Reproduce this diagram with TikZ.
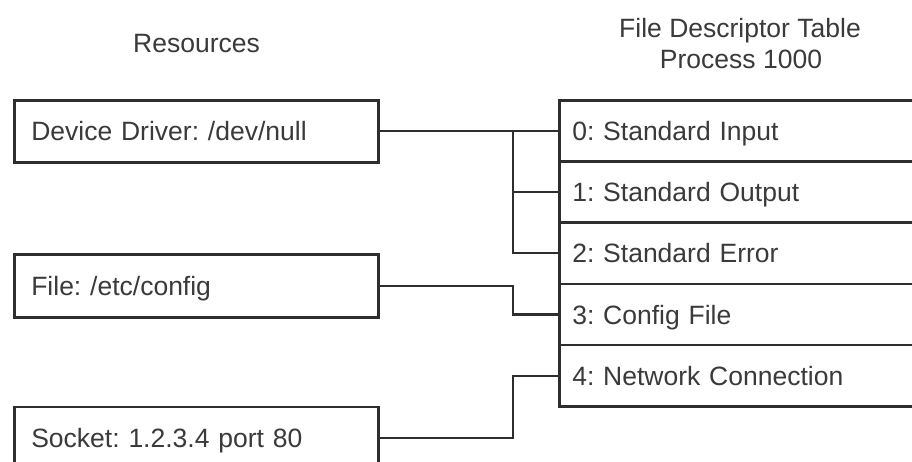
\documentclass[tikz,border=0pt]{standalone}
\usepackage{fontspec}
\setmainfont{Liberation Sans}
\frenchspacing
\definecolor{ink}{HTML}{2E2E2E}
\definecolor{txt}{HTML}{3A3A3A}
\begin{document}
\begin{tikzpicture}[x=1pt,y=-1pt,
  every node/.style={font=\fontsize{26.5}{31}\selectfont\frenchspacing, text=txt},
  resbox/.style={draw=ink, line width=2.6pt, anchor=north west, minimum width=364pt,
    minimum height=62pt, inner sep=0pt, text width=364pt, align=left,
    text height=19pt, text depth=0pt, execute at begin node=\hspace*{17pt}},
  rowbox/.style={draw=ink, line width=2.6pt, anchor=north west, minimum width=366pt,
    minimum height=61.2pt, inner sep=0pt, text width=366pt, align=left,
    text height=19pt, text depth=0pt, execute at begin node=\hspace*{13pt}},
  conn/.style={draw=ink, line width=2.3pt},
  title/.style={anchor=base}]
\useasboundingbox (0,0) rectangle (912,461);
\clip (0,0) rectangle (912,461);
\fill[white] (0,0) rectangle (912,461);

% titles
\node[title] (tres) at (196.5,52) {Resources};
\node[title] (tfdt) at (740,37) {File Descriptor Table};
\node[title] (tproc) at (741,68.5) {Process 1000};

% resources
\node[resbox] (dev) at (13,99) {Device Driver: /dev/null};
\node[resbox, minimum height=63pt] (file) at (13,253) {File: /etc/config};
\node[resbox] (sock) at (13,405.5) {Socket: 1.2.3.4 port 80};

% file descriptor table
\node[rowbox] (row0) at (558,99) {0: Standard Input};
\node[rowbox] (row1) at (558,160.2) {1: Standard Output};
\node[rowbox] (row2) at (558,221.4) {2: Standard Error};
\node[rowbox] (row3) at (558,282.6) {3: Config File};
\node[rowbox] (row4) at (558,343.8) {4: Network Connection};

% connectors
\coordinate (bx) at (513,0);
\draw[conn] (dev.east) -- (dev.east -| row0.west);
\draw[conn] (dev.east -| bx) |- (row2.west);
\draw[conn] (bx |- row1.west) -- (row1.west);
\draw[conn] (file.east) -| (bx |- row3.west) -- (row3.west);
\draw[conn] (sock.east) -| (bx |- row4.west) -- (row4.west);
\end{tikzpicture}
\end{document}
